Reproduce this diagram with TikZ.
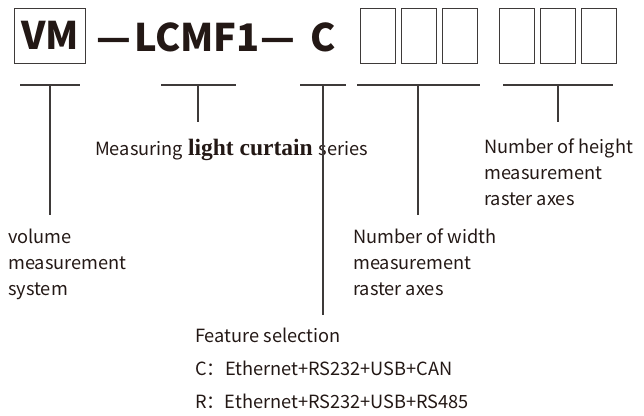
\documentclass[tikz,border=0pt]{standalone}
\usepackage{fontspec}
\setmainfont{Noto Sans CJK SC}
\newfontfamily\serifb{Liberation Serif}
\definecolor{ink}{HTML}{3E3A39}
\definecolor{txt}{HTML}{231815}
\begin{document}
\begin{tikzpicture}[x=1pt,y=-1pt,
  bline/.style={draw=ink, line width=1.3pt},
  lbl/.style={inner sep=0pt, anchor=base west, text=txt, font=\fontsize{18.2}{26}\selectfont, align=left},
  cell/.style={draw=ink, line width=0.8pt, minimum width=35pt, minimum height=55pt, inner sep=0pt, anchor=north west},
  big/.style={inner sep=0pt, anchor=base west, text=txt, font=\fontsize{38}{40}\selectfont\bfseries}]
\useasboundingbox (0,0) rectangle (644,415);
% code line
\node[cell, minimum width=71pt, text=txt, font=\fontsize{38}{40}\selectfont\bfseries, text height=28pt, text depth=0pt] (vm) at (14,8) {VM};
\node[big] (d1) at (96,51) {—};
\node[big] (lc) at (134,51) {LCMF1};
\node[big] (d2) at (260,51) {—};
\node[big] (c) at (310,51) {C};
\node[cell] (w1) at (360,8) {};
\node[cell] (w2) at (401,8) {};
\node[cell] (w3) at (442,8) {};
\node[cell] (h1) at (499,8) {};
\node[cell] (h2) at (540,8) {};
\node[cell] (h3) at (581,8) {};
% labels (base = baseline of last line)
\node[lbl] (vol) at (8,295) {volume\\measurement\\system};
\node[lbl] (ser) at (95,155) {Measuring\hspace{1pt} {\serifb\bfseries\fontsize{23.5}{24}\selectfont light curtain}\hspace{2pt} series};
\node[lbl] (wid) at (353,295) {Number of width\\measurement\\raster axes};
\node[lbl] (hei) at (484,205) {Number of height\\measurement\\raster axes};
\node[lbl, font=\fontsize{18.2}{33}\selectfont] (fea) at (195,408) {Feature selection\\C：Ethernet+RS232+USB+CAN\\R：Ethernet+RS232+USB+RS485};
% brackets
\coordinate (b1) at (50,85); \coordinate (b2) at (198,85); \coordinate (b3) at (323,85);
\coordinate (b4) at (418,85); \coordinate (b5) at (558,85);
\draw[bline] (20,85) -- (80,85);  \draw[bline] (b1) -- (50,215);
\draw[bline] (161,85) -- (236,85); \draw[bline] (b2) -- (198,122);
\draw[bline] (300,85) -- (346,85); \draw[bline] (b3) -- (323,315);
\draw[bline] (357,85) -- (480,85); \draw[bline] (b4) -- (418,215);
\draw[bline] (503,85) -- (613,85); \draw[bline] (b5) -- (558,122);
\end{tikzpicture}
\end{document}
